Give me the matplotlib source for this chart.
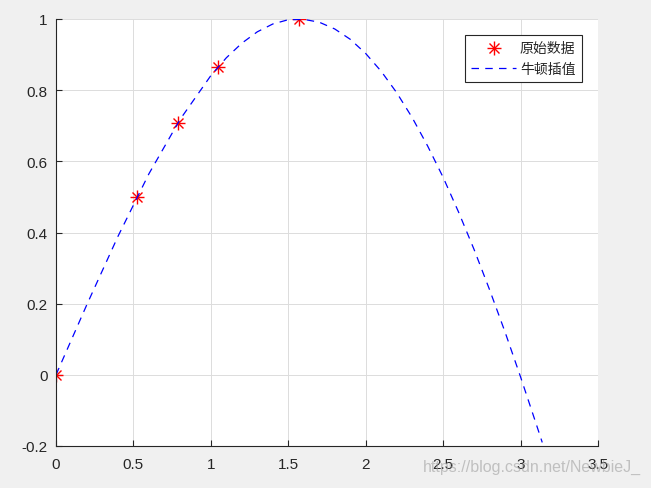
import matplotlib
matplotlib.use('Agg')
import matplotlib.pyplot as plt
from matplotlib.legend_handler import HandlerTuple
from matplotlib.ticker import FormatStrFormatter

# known sample points
x_pts = [0, 0.5236, 0.7854, 1.0472, 1.5708]
y_pts = [0, 0.5, 0.7071, 0.8660, 1.0]

# Newton interpolation curve
x_curve = [0, 0.2, 0.4, 0.6, 0.8, 1.0, 1.1, 1.2, 1.3, 1.4, 1.5, 1.6, 1.7,
           1.8, 1.9, 2.0, 2.1, 2.2, 2.3, 2.4, 2.5, 2.6, 2.7, 2.8, 2.9, 3.0,
           3.1, 3.14]
y_curve = [0, 0.198, 0.389, 0.565, 0.717, 0.841, 0.891, 0.932, 0.964, 0.986,
           0.998, 0.999, 0.991, 0.972, 0.943, 0.903, 0.853, 0.793, 0.723,
           0.643, 0.555, 0.457, 0.352, 0.239, 0.120, -0.006, -0.137, -0.19]

x_ticks = [0, 0.5, 1, 1.5, 2, 2.5, 3, 3.5]
y_ticks = [-0.2, 0, 0.2, 0.4, 0.6, 0.8, 1]

plt.rcParams['font.family'] = ['Liberation Sans', 'Noto Sans CJK SC', 'DejaVu Sans']

fig = plt.figure(figsize=(6.51, 4.89), dpi=100, facecolor='#f0f0f0')
ax = fig.add_axes([56 / 651, 1 - 447 / 489, (598 - 56) / 651, (447 - 20) / 489])
ax.set_facecolor('white')

m1, = ax.plot(x_pts, y_pts, linestyle='none', marker='+', color='red',
              markersize=10, markeredgewidth=1.0)
m2, = ax.plot(x_pts, y_pts, linestyle='none', marker='x', color='red',
              markersize=7, markeredgewidth=1.0)
ln, = ax.plot(x_curve, y_curve, linestyle=(0, (6, 5)), color='blue',
              linewidth=0.9)

ax.set_xlim(0, 3.5)
ax.set_ylim(-0.2, 1)
ax.set_xticks(x_ticks)
ax.set_yticks(y_ticks)
ax.xaxis.set_major_formatter(FormatStrFormatter('%g'))
ax.yaxis.set_major_formatter(FormatStrFormatter('%g'))
ax.grid(True, color='#dcdcdc', linewidth=0.7)
ax.set_axisbelow(True)
for s in ['top', 'right']:
    ax.spines[s].set_visible(False)
for s in ['left', 'bottom']:
    ax.spines[s].set_color('#262626')
    ax.spines[s].set_linewidth(0.8)
ax.tick_params(direction='in', length=4, width=0.8, colors='#262626',
               labelsize=11)
ax.tick_params(axis='x', pad=8)
ax.tick_params(axis='y', pad=6)

leg = ax.legend([(m1, m2), ln], ['原始数据', '牛顿插值'],
                handler_map={tuple: HandlerTuple(ndivide=1)},
                loc='upper right', bbox_to_anchor=(0.97, 0.962),
                prop={'family': ['Noto Sans CJK SC', 'DejaVu Sans'], 'size': 10},
                fancybox=False, framealpha=1, edgecolor='#262626',
                handlelength=3.2, borderpad=0.45, labelspacing=0.45,
                handletextpad=0.3, borderaxespad=0)
leg.get_frame().set_linewidth(0.8)
for t in leg.get_texts():
    t.set_color('#262626')

fig.text(0.985, 0.045, 'https://blog.csdn.net/NewbieJ_', ha='right', va='center',
         fontsize=11.5, color='#a0a0a0', alpha=0.6)

fig.savefig('out.png', dpi=100, facecolor='#f0f0f0')
